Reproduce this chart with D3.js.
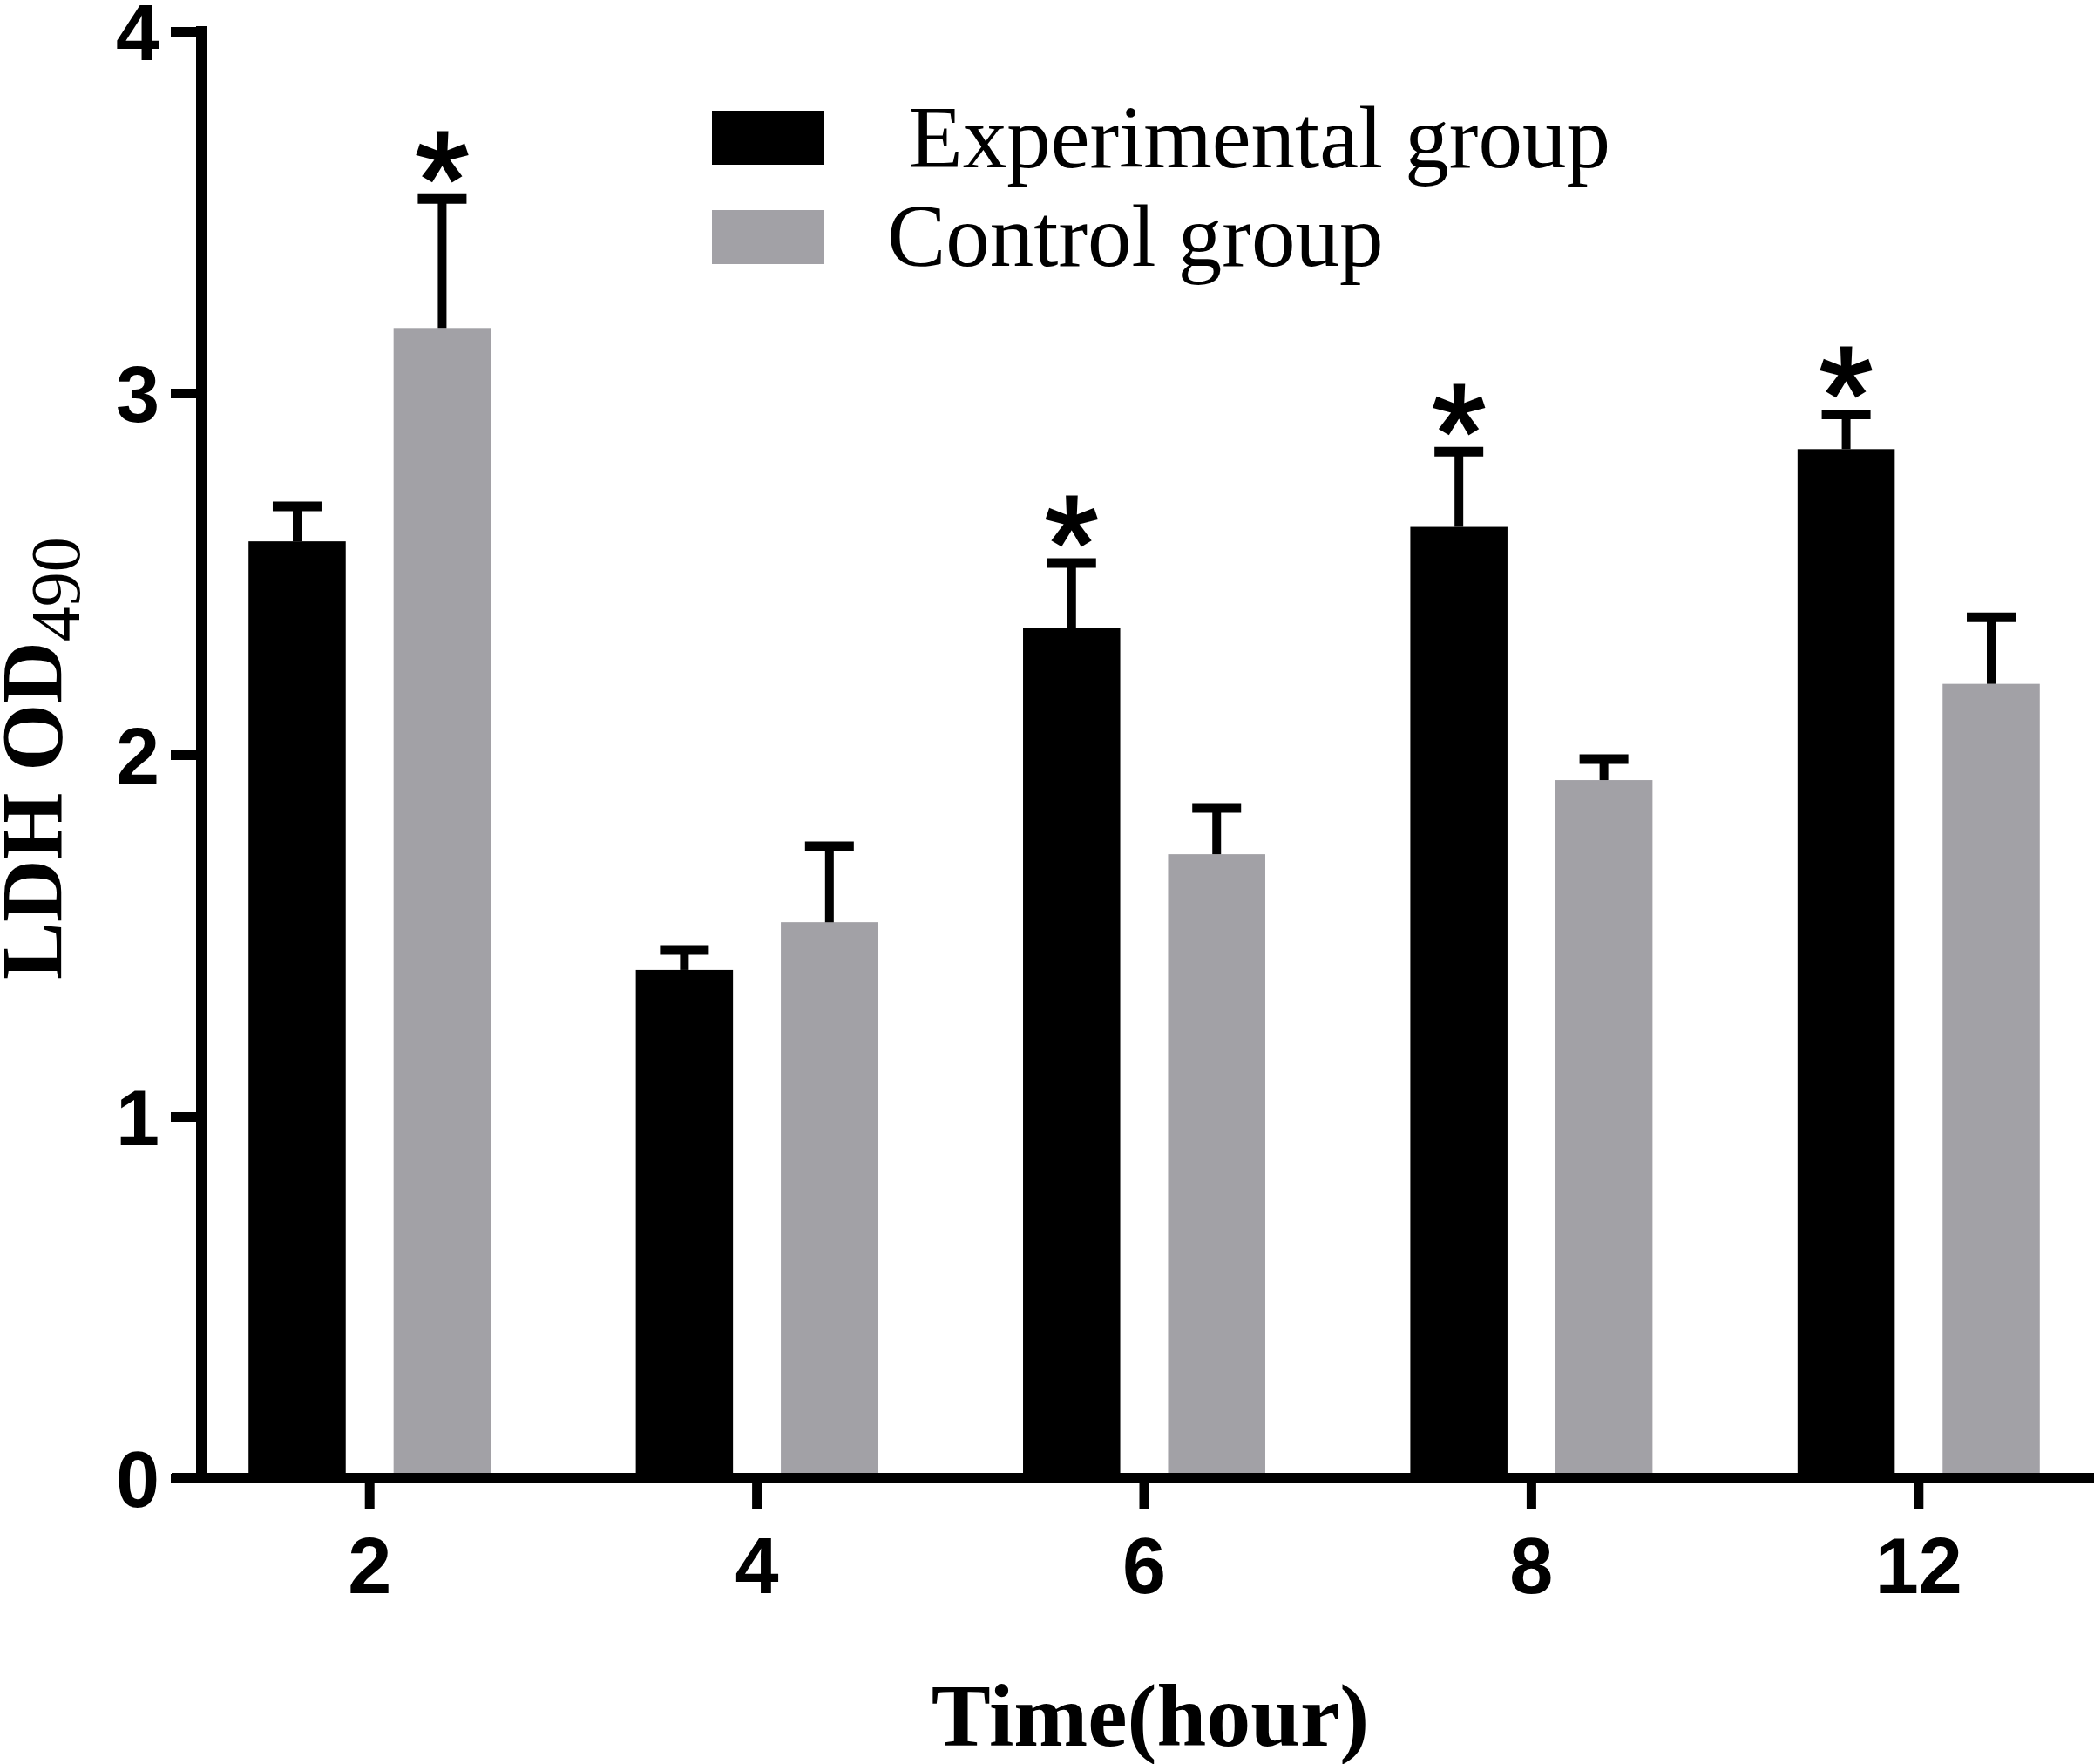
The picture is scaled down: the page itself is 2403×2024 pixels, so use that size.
<!DOCTYPE html>
<html>
<head>
<meta charset="utf-8">
<script src="https://d3js.org/d3.v7.min.js"></script>
<style>
  body { margin: 0; background: #fff; }
  svg { display: block; }
</style>
</head>
<body>
<div id="chart"></div>
<script>
// data
var times = ["2", "4", "6", "8", "12"];
var groups = ["Experimental group", "Control group"];
var expMean = [2.59, 1.405, 2.35, 2.63, 2.845];
var expErr  = [0.097, 0.055, 0.18, 0.208, 0.096];
var ctlMean = [3.18, 1.537, 1.725, 1.93, 2.196];
var ctlErr  = [0.357, 0.21, 0.128, 0.058, 0.184];
// which bar gets a star: [time index, group index]
var stars = [[0, 1], [2, 0], [3, 0], [4, 0]];
var yTicks = [0, 1, 2, 3, 4];

var W = 2403, H = 2024;
var colors = ["#000000", "#a2a1a6"];

var rows = [];
times.forEach(function(t, i){
  rows.push({t: t, g: groups[0], gi: 0, v: expMean[i], e: expErr[i]});
  rows.push({t: t, g: groups[1], gi: 1, v: ctlMean[i], e: ctlErr[i]});
});

var svg = d3.select("#chart").append("svg")
  .attr("width", W).attr("height", H);

//scales
var y = d3.scaleLinear().domain([0, 4]).range([1696, 36]);
var x0 = d3.scaleBand().domain(times).range([202, 2424]).padding(0);
var x1 = d3.scaleBand().domain(groups).range([0, x0.bandwidth()])
  .paddingInner(0.33).paddingOuter(0.5);

//bars
var bars = svg.append("g").attr("class", "bars");
bars.selectAll("rect").data(rows).enter().append("rect")
  .attr("x", function(d){ return x0(d.t) + x1(d.g); })
  .attr("y", function(d){ return y(d.v); })
  .attr("width", x1.bandwidth())
  .attr("height", function(d){ return y(0) - y(d.v); })
  .attr("fill", function(d){ return colors[d.gi]; });

//error bars (upper only)
var err = svg.append("g").attr("class", "err").attr("stroke", "#000");
rows.forEach(function(d){
  var cx = x0(d.t) + x1(d.g) + x1.bandwidth()/2;
  err.append("line")
    .attr("x1", cx).attr("x2", cx)
    .attr("y1", y(d.v)).attr("y2", y(d.v + d.e))
    .attr("stroke-width", 10);
  err.append("line")
    .attr("x1", cx - 28).attr("x2", cx + 28)
    .attr("y1", y(d.v + d.e)).attr("y2", y(d.v + d.e))
    .attr("stroke-width", 11);
});

//stars, measured so the glyph bottom sits just above the cap
var ctx = document.createElement("canvas").getContext("2d");
ctx.font = "100px 'Liberation Sans', Arial, sans-serif";
var m0 = ctx.measureText("*");
var inkH = m0.actualBoundingBoxAscent + m0.actualBoundingBoxDescent;
var starSize = inkH > 0 ? Math.round(100 * 57 / inkH) : 190;
var starFont = starSize + "px 'Liberation Sans', Arial, sans-serif";
ctx.font = starFont;
var m = ctx.measureText("*");
stars.forEach(function(s){
  var d = rows[s[0]*2 + s[1]];
  var cx = x0(d.t) + x1(d.g) + x1.bandwidth()/2;
  var bottom = y(d.v + d.e) - 5.5 - 15;
  svg.append("text")
    .attr("x", cx)
    .attr("y", bottom - m.actualBoundingBoxDescent)
    .attr("text-anchor", "middle")
    .attr("stroke", "#000").attr("stroke-width", 3)
    .style("font", starFont)
    .text("*");
});

//axes
var axisG = svg.append("g").attr("class", "axes");
axisG.append("line")
  .attr("x1", 231).attr("x2", 231)
  .attr("y1", y(4) - 6).attr("y2", y(0) + 6)
  .attr("stroke", "#000").attr("stroke-width", 12);
axisG.append("line")
  .attr("x1", 197).attr("x2", W)
  .attr("y1", y(0)).attr("y2", y(0))
  .attr("stroke", "#000").attr("stroke-width", 12);

var yAxis = d3.axisLeft(y).tickValues(yTicks).tickSize(35).tickPadding(13)
  .tickFormat(d3.format("d"));
var gy = axisG.append("g").attr("transform", "translate(231,0)").call(yAxis);
gy.select(".domain").remove();
gy.selectAll(".tick line").attr("stroke", "#000").attr("stroke-width", 11);
gy.selectAll(".tick text")
  .attr("dy", "0.36em")
  .style("font", "bold 90px 'Liberation Sans', Arial, sans-serif")
  .attr("fill", "#000");

var xAxis = d3.axisBottom(x0).tickSize(35).tickPadding(0);
var gx = axisG.append("g").attr("transform", "translate(0," + y(0) + ")").call(xAxis);
gx.select(".domain").remove();
gx.selectAll(".tick line").attr("stroke", "#000").attr("stroke-width", 11);
gx.selectAll(".tick text")
  .attr("y", 132).attr("dy", 0)
  .style("font", "bold 90px 'Liberation Sans', Arial, sans-serif")
  .attr("fill", "#000");

//axis titles
var yTitle = svg.append("text")
  .attr("transform", "translate(70,1124) rotate(-90)")
  .style("font-family", "'Liberation Serif', 'Times New Roman', serif")
  .attr("fill", "#000");
yTitle.append("tspan").style("font-weight", "bold").style("font-size", "99px").text("LDH OD");
yTitle.append("tspan").style("font-size", "80px").attr("dy", 21).text("490");

svg.append("text")
  .attr("x", 1320).attr("y", 2003)
  .attr("text-anchor", "middle")
  .style("font", "bold 102px 'Liberation Serif', 'Times New Roman', serif")
  .text("Time(hour)");

//legend
var legend = svg.append("g").attr("class", "legend");
var legY = [127, 241], legTx = [1043, 1018], legBase = [192, 305];
groups.forEach(function(g, i){
  legend.append("rect")
    .attr("x", 817).attr("y", legY[i])
    .attr("width", 129).attr("height", 62)
    .attr("fill", colors[i]);
  legend.append("text")
    .attr("x", legTx[i]).attr("y", legBase[i])
    .style("font", "101px 'Liberation Serif', 'Times New Roman', serif")
    .text(g);
});
</script>
</body>
</html>
